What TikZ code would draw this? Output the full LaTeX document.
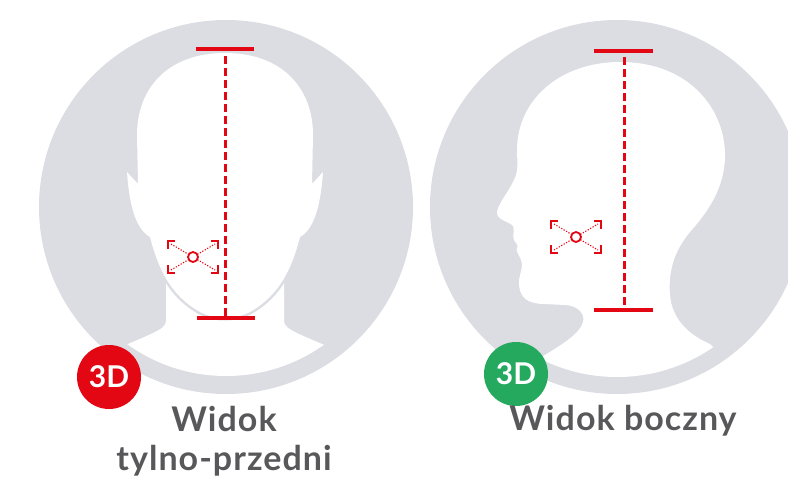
\documentclass[tikz,border=0pt]{standalone}
\usepackage{fontspec}
\setmainfont{Lato}
\usepackage{tikz}
\usetikzlibrary{positioning}
\definecolor{ring}{HTML}{DCDDE2}
\definecolor{markred}{HTML}{E30613}
\definecolor{badgegreen}{HTML}{25A95F}
\definecolor{captext}{HTML}{58585A}

\begin{document}
\begin{tikzpicture}[x=1pt,y=-1pt,
  skin/.style={fill=white},
  badge/.style={circle,minimum size=64pt,inner sep=0pt,text=white,
    font=\fontsize{30}{30}\selectfont\bfseries},
  caption/.style={anchor=base,text=captext,
    font=\fontsize{34}{39}\selectfont\bfseries\addfontfeature{LetterSpace=3}},
  dimbar/.style={markred,line width=3.2pt},
  dimline/.style={markred,line width=3.2pt,dash pattern=on 8pt off 4pt},
  bracket/.style={markred,line width=1.9pt},
  aimline/.style={markred,line width=1.1pt,dash pattern=on 1.2pt off 1.6pt}]
  \useasboundingbox (0,0) rectangle (788,477);
  \clip (0,0) rectangle (788,477);
  % Front view
  \fill[ring] (226,207) circle[radius=187];
  \begin{scope}
    \clip (226,207) circle[radius=169];
    % neck and shoulders
    \fill[skin] (166,250) -- (166,321) .. controls (166,330) and (150,334) .. (100,356)
      -- (100,420) -- (350,420) -- (350,356) .. controls (300,334) and (284,330) .. (284,321)
      -- (284,250) -- cycle;
    % shadow under the jaw
    \draw[ring,line width=5pt] (150,237) .. controls (158,268) and (170,295) .. (200,312)
      .. controls (210,317) and (218,318) .. (225,318)
      .. controls (232,318) and (240,317) .. (250,312)
      .. controls (280,295) and (292,268) .. (300,237);
    % face with ears
    \fill[skin] (225,53) .. controls (168,53) and (137,88) .. (137,135) -- (138,184)
      -- (127,172) .. controls (129,200) and (134,228) .. (150,237)
      .. controls (158,268) and (170,295) .. (200,312)
      .. controls (210,317) and (218,318) .. (225,318)
      .. controls (232,318) and (240,317) .. (250,312)
      .. controls (280,295) and (292,268) .. (300,237)
      .. controls (316,228) and (321,200) .. (323,172) -- (312,184)
      -- (313,135) .. controls (313,88) and (282,53) .. (225,53) -- cycle;
  \end{scope}
  \draw[dimline] (225.5,56) -- (225.5,317);
  \draw[dimbar] (196,49) -- (254,49);
  \draw[dimbar] (197,318) -- (255,318);
  \node[badge,fill=markred] (badgeFront) at (109,377) {3D};
  \node[caption] (capFront) at (224,431) {Widok};
  \node[caption] (capFrontB) at (224,470) {tylno-przedni};
  % Side view
  \fill[ring] (617,207) circle[radius=187];
  \begin{scope}
    \clip (617,207) circle[radius=170];
    \fill[skin] (620,62) .. controls (560,62) and (517,100) .. (517,150)
      .. controls (517,160) and (519,170) .. (514,180)
      .. controls (508,193) and (497,205) .. (497,213)
      .. controls (497,220) and (510,222) .. (513,226)
      .. controls (515,230) and (512,236) .. (514,240)
      .. controls (516,244) and (519,245) .. (517,248)
      .. controls (515,252) and (522,258) .. (522,264)
      .. controls (522,272) and (518,278) .. (519,285)
      .. controls (520,298) and (528,304) .. (545,304)
      -- (565,305) .. controls (580,306) and (585,315) .. (583,322)
      .. controls (580,333) and (565,343) .. (540,358)
      -- (540,420) -- (760,420) -- (708,357)
      .. controls (716,353) and (716,347) .. (708,343)
      .. controls (690,335) and (672,320) .. (670,295)
      .. controls (668,270) and (675,250) .. (690,232)
      .. controls (705,215) and (725,190) .. (725,155)
      .. controls (725,110) and (690,62) .. (620,62) -- cycle;
  \end{scope}
  \draw[dimline] (624.5,57) -- (624.5,309);
  \draw[dimbar] (594,51) -- (653,51);
  \draw[dimbar] (594,310) -- (653,310);
  \node[badge,fill=badgegreen] (badgeSide) at (516,374) {3D};
  \node[caption] (capSide) at (623,430) {Widok boczny};
  % Aim marks
  \foreach \tx/\ty in {193/257, 576/237}{
    \draw[aimline] (\tx-22,\ty-13) -- (\tx+22,\ty+13);
    \draw[aimline] (\tx-22,\ty+13) -- (\tx+22,\ty-13);
    \draw[bracket] (\tx-25,\ty-8) -- (\tx-25,\ty-16) -- (\tx-18,\ty-16);
    \draw[bracket] (\tx+18,\ty-16) -- (\tx+25,\ty-16) -- (\tx+25,\ty-8);
    \draw[bracket] (\tx-25,\ty+8) -- (\tx-25,\ty+16) -- (\tx-18,\ty+16);
    \draw[bracket] (\tx+18,\ty+16) -- (\tx+25,\ty+16) -- (\tx+25,\ty+8);
    \draw[markred,line width=1.8pt,fill=white] (\tx,\ty) circle[radius=5];
  }
\end{tikzpicture}
\end{document}
